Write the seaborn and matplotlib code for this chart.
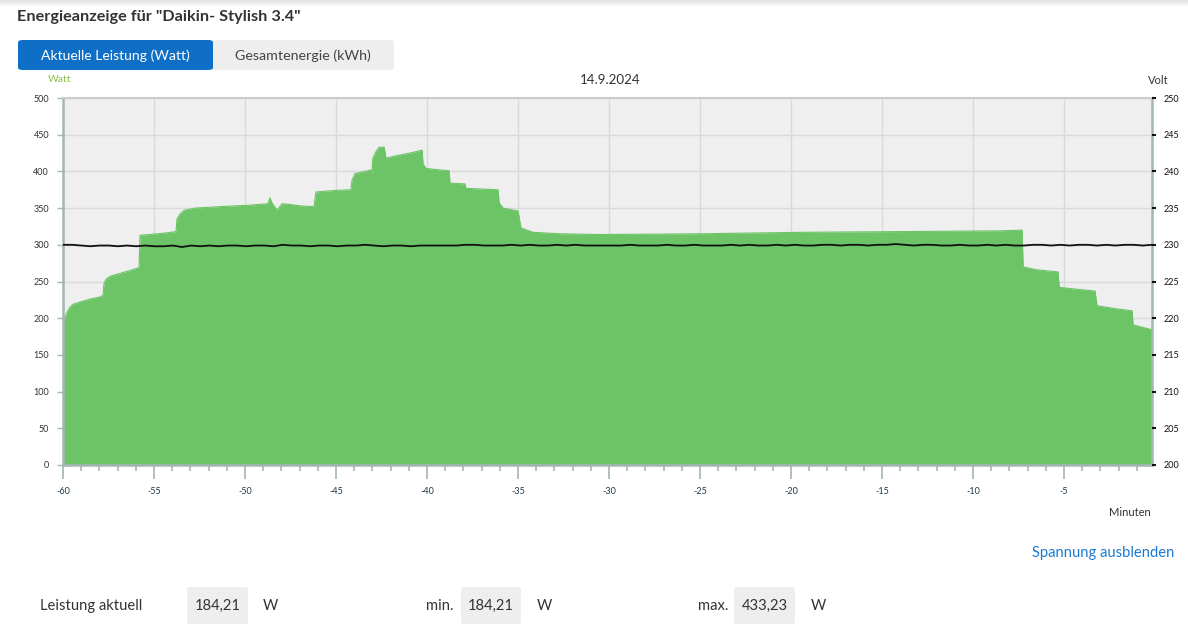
import numpy as np
import pandas as pd
import matplotlib
matplotlib.use("Agg")
import matplotlib.pyplot as plt
from matplotlib.patches import FancyBboxPatch, Rectangle
from matplotlib.ticker import MultipleLocator
import seaborn as sns

# ---------------- data ----------------
title = 'Energieanzeige für "Daikin- Stylish 3.4"'
tab_active = "Aktuelle Leistung (Watt)"
tab_inactive = "Gesamtenergie (kWh)"
date_label = "14.9.2024"

power_minutes = [-60.0, -59.78, -59.62, -59.45, -59.07, -58.52, -57.97, -57.80, -57.75, -57.64,
                 -57.42, -56.87, -56.32, -55.82, -55.77, -55.22, -54.40, -53.79, -53.74, -53.57,
                 -53.35, -52.75, -51.37, -49.73, -48.74, -48.63, -48.52, -48.24, -47.97, -47.53,
                 -46.98, -46.21, -46.10, -45.05, -44.18, -44.12, -43.96, -43.41, -43.08, -43.03,
                 -42.98, -42.80, -42.64, -42.36, -42.25, -41.76, -40.93, -40.27, -40.22, -40.05,
                 -39.29, -38.79, -38.74, -37.91, -37.86, -37.09, -36.10, -36.04, -35.82, -35.00,
                 -34.84, -34.51, -34.18, -32.69, -30.49, -25.0, -19.5, -14.01, -8.52, -7.31,
                 -7.25, -6.54, -5.33, -5.27, -4.12, -3.30, -3.19, -2.20, -1.26, -1.21, -0.17]
power_watts = [193, 208, 215, 219, 222, 226, 229, 231, 247, 253,
               257, 261, 265, 269, 313, 314, 316, 318, 335, 342,
               347, 350, 352, 354, 356, 364, 357, 347, 356, 355,
               353, 352, 372, 374, 375, 388, 397, 400, 402, 396,
               418, 427, 433, 433, 418, 421, 425, 429, 410, 404,
               402, 401, 384, 383, 377, 376, 375, 357, 350, 346,
               323, 320, 317, 315, 314, 315, 317, 318, 319, 320,
               270, 266, 263, 242, 239, 237, 217, 213, 210, 191, 184.21]

volts = [230.0, 230.0, 229.9, 229.8, 229.9, 229.9, 229.8, 229.9, 229.8, 229.9,
         229.8, 229.8, 229.9, 229.7, 229.9, 229.8, 229.9, 229.8, 229.9, 229.9,
         229.8, 229.9, 229.9, 229.8, 230.0, 229.9, 229.9, 229.8, 229.9, 229.9,
         229.8, 229.9, 229.9, 230.0, 229.9, 229.8, 229.9, 229.9, 229.8, 229.9,
         229.9, 229.9, 229.9, 229.9, 230.0, 230.0, 229.9, 229.9, 229.9, 230.0,
         229.9, 230.0, 229.9, 229.9, 230.0, 229.9, 230.0, 229.9, 229.9, 229.9,
         229.9, 229.9, 230.0, 229.9, 229.9, 229.9, 230.0, 229.9, 229.9, 230.0,
         229.9, 229.9, 229.9, 230.0, 229.9, 230.0, 229.9, 229.9, 230.0, 229.9,
         230.0, 229.9, 229.9, 230.0, 230.0, 229.9, 230.0, 230.0, 229.9, 230.0,
         230.0, 230.1, 230.0, 229.9, 230.0, 230.0, 229.9, 229.9, 230.0, 229.9,
         229.9, 230.0, 229.9, 230.0, 229.9, 229.9, 230.0, 230.0, 229.9, 230.0,
         229.9, 230.0, 230.0, 229.9, 230.0, 229.9, 230.0, 230.0, 229.9, 230.0]
volt_minutes = list(np.linspace(-60.0, -0.17, len(volts)))

x_ticks = [-60, -55, -50, -45, -40, -35, -30, -25, -20, -15, -10, -5]
watt_ticks = [0, 50, 100, 150, 200, 250, 300, 350, 400, 450, 500]
volt_ticks = [200, 205, 210, 215, 220, 225, 230, 235, 240, 245, 250]

stat_current = "184,21"
stat_min = "184,21"
stat_max = "433,23"

# ---------------- style ----------------
sns.set_theme(style="white")
plt.rcParams['font.family'] = ['Lato', 'DejaVu Sans']

GREEN = "#6cc466"
AXIS_C = "#a3b5b8"

W, H = 1188, 625
fig = plt.figure(figsize=(W / 100, H / 100), dpi=100)
fig.patch.set_facecolor("white")

def fx(px):
    return px / W

def fy(py):
    return 1 - py / H

ax = fig.add_axes([fx(63), fy(465), fx(1152) - fx(63), fy(98) - fy(465)])
ax.set_facecolor("#efefef")

df_p = pd.DataFrame({"Minuten": power_minutes, "Watt": power_watts})
ax.fill_between(df_p["Minuten"], 0, df_p["Watt"], color=GREEN, linewidth=0, zorder=2)
sns.lineplot(data=df_p, x="Minuten", y="Watt", ax=ax, color=GREEN, linewidth=0.8, zorder=2)

ax.set_xlim(-60, -0.17)
ax.set_ylim(0, 500)
ax.set_xticks(x_ticks)
ax.xaxis.set_minor_locator(MultipleLocator(1))
ax.set_yticks(watt_ticks)
ax.grid(True, which="major", color="#d9d9d9", linewidth=1, zorder=0)
ax.set_axisbelow(True)
ax.set_xlabel("")
ax.set_ylabel("")

ax.tick_params(axis="x", which="major", bottom=True, length=10, width=1.2, color=AXIS_C,
               labelsize=6.5, labelcolor="#1e3a4a", pad=6, direction="out")
ax.tick_params(axis="x", which="minor", bottom=True, length=4, width=1.2, color=AXIS_C,
               direction="out")
ax.tick_params(axis="y", which="major", left=True, length=4, width=1, color=AXIS_C,
               labelsize=6.5, labelcolor="#333333", pad=6, direction="out")
ax.set_xticklabels([str(t) for t in x_ticks])

for s in ["left", "bottom"]:
    ax.spines[s].set_color(AXIS_C)
    ax.spines[s].set_linewidth(1.8)
ax.spines["top"].set_color("#cccccc")
ax.spines["top"].set_linewidth(1.5)
ax.spines["right"].set_color(AXIS_C)
ax.spines["right"].set_linewidth(1.8)

ax2 = ax.twinx()
df_v = pd.DataFrame({"Minuten": volt_minutes, "Volt": volts})
sns.lineplot(data=df_v, x="Minuten", y="Volt", ax=ax2, color="#111111",
             linewidth=1.3, zorder=5)
ax2.set_ylim(200, 250)
ax2.set_xlim(-60, -0.17)
ax2.set_yticks(volt_ticks)
ax2.set_ylabel("")
ax2.set_xlabel("")
ax2.tick_params(axis="y", right=True, length=3, width=1.5, color="#111111",
                labelsize=6.5, labelcolor="#111111", pad=5, direction="out")
for s in ax2.spines.values():
    s.set_visible(False)
ax2.grid(False)

# ---------------- page texts ----------------
for i in range(6):
    fig.patches.append(Rectangle((0, fy(i + 1)), 1, fy(i) - fy(i + 1), transform=fig.transFigure,
                                 color=(0.80, 0.80, 0.80, 0.55 - i * 0.09), linewidth=0))

fig.text(fx(17), fy(17), title, fontsize=11.7, fontweight="bold", color="#333333",
         ha="left", va="center")

fig.patches.append(FancyBboxPatch((fx(18), fy(70)), fx(394) - fx(18), fy(40) - fy(70),
                                  boxstyle="round,pad=0,rounding_size=0.004",
                                  transform=fig.transFigure, facecolor="#eeeeee",
                                  edgecolor="none"))
fig.patches.append(FancyBboxPatch((fx(18), fy(70)), fx(213) - fx(18), fy(40) - fy(70),
                                  boxstyle="round,pad=0,rounding_size=0.004",
                                  transform=fig.transFigure, facecolor="#0f6fc6",
                                  edgecolor="none"))
fig.text(fx(115), fy(56), tab_active, fontsize=10.1, color="white", ha="center", va="center")
fig.text(fx(303), fy(56), tab_inactive, fontsize=10.3, color="#444444", ha="center", va="center")

fig.text(fx(60), fy(80), "Watt", fontsize=7.5, color="#8cbf4a", ha="center", va="center")
fig.text(fx(610), fy(80), date_label, fontsize=9.6, color="#333333", ha="center", va="center")
fig.text(fx(1158), fy(80), "Volt", fontsize=8, color="#333333", ha="center", va="center")
fig.text(fx(1130), fy(513), "Minuten", fontsize=8, color="#333333", ha="center", va="center")
fig.text(fx(1174), fy(553), "Spannung ausblenden", fontsize=10.6, color="#1a7ad0",
         ha="right", va="center")

for (x0, x1) in [(187, 248), (461, 521), (734, 795)]:
    fig.patches.append(FancyBboxPatch((fx(x0), fy(624)), fx(x1) - fx(x0), fy(587) - fy(624),
                                      boxstyle="round,pad=0,rounding_size=0.003",
                                      transform=fig.transFigure, facecolor="#eeeeee",
                                      edgecolor="none"))
FS = 10.6
fig.text(fx(40), fy(606), "Leistung aktuell", fontsize=FS, color="#333333", ha="left", va="center")
fig.text(fx(218), fy(606), stat_current, fontsize=FS, color="#333333", ha="center", va="center")
fig.text(fx(270), fy(606), "W", fontsize=FS, color="#333333", ha="center", va="center")
fig.text(fx(440), fy(606), "min.", fontsize=FS, color="#333333", ha="center", va="center")
fig.text(fx(491), fy(606), stat_min, fontsize=FS, color="#333333", ha="center", va="center")
fig.text(fx(544), fy(606), "W", fontsize=FS, color="#333333", ha="center", va="center")
fig.text(fx(713), fy(606), "max.", fontsize=FS, color="#333333", ha="center", va="center")
fig.text(fx(765), fy(606), stat_max, fontsize=FS, color="#333333", ha="center", va="center")
fig.text(fx(818), fy(606), "W", fontsize=FS, color="#333333", ha="center", va="center")

fig.savefig("out.png", dpi=100)
